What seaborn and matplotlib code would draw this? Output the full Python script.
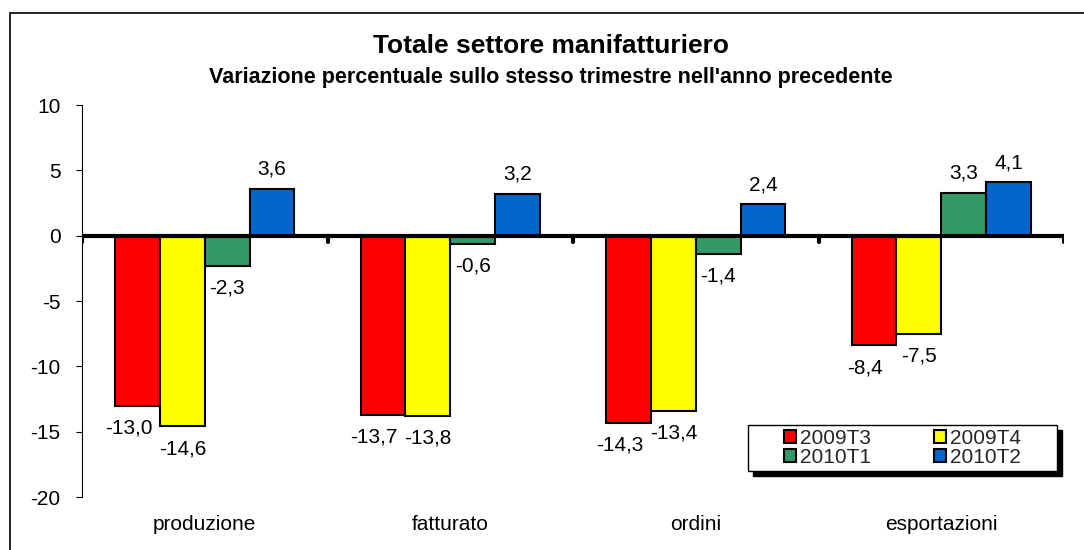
import numpy as np
import pandas as pd
import seaborn as sns
import matplotlib.pyplot as plt
from matplotlib.patches import Rectangle

# dati
categorie = ["produzione", "fatturato", "ordini", "esportazioni"]
trimestri = ["2009T3", "2009T4", "2010T1", "2010T2"]
v_2009T3 = [-13.0, -13.7, -14.3, -8.4]
v_2009T4 = [-14.6, -13.8, -13.4, -7.5]
v_2010T1 = [-2.3, -0.6, -1.4, 3.3]
v_2010T2 = [3.6, 3.2, 2.4, 4.1]
colori = ["#FF0000", "#FFFF00", "#339966", "#0066CC"]

serie = [v_2009T3, v_2009T4, v_2010T1, v_2010T2]
rows = []
for t, vals in zip(trimestri, serie):
    for c, v in zip(categorie, vals):
        rows.append({"categoria": c, "trimestre": t, "valore": v})
df = pd.DataFrame(rows)

sns.set_theme(style="white")
plt.rcParams['font.family'] = ['Liberation Sans', 'DejaVu Sans']
plt.rcParams['axes.unicode_minus'] = False

fig = plt.figure(figsize=(10.84, 5.5), dpi=100)
ax = fig.add_axes([82/1084, 1-497/550, 982/1084, 392/550])

sns.barplot(data=df, x="categoria", y="valore", hue="trimestre",
            order=categorie, hue_order=trimestri, palette=colori,
            width=0.73, gap=0, edgecolor="black", linewidth=1.5,
            saturation=1, ax=ax, legend=True)

ax.set_xlim(-0.5, len(categorie) - 0.5)
ax.set_ylim(-20, 10)
ax.set_yticks(np.arange(-20, 11, 5))
ax.set_xlabel("")
ax.set_ylabel("")

for s in ["top", "right", "bottom"]:
    ax.spines[s].set_visible(False)
ax.spines["left"].set_color("black")
ax.spines["left"].set_linewidth(0.8)

ax.tick_params(axis="y", which="major", left=True, length=4.5, width=0.8,
               color="black", pad=11, labelsize=15, labelcolor="black")
ax.tick_params(axis="x", length=0, pad=13, labelsize=15, labelcolor="black")

# asse dello zero e tacche tra le categorie
ax.axhline(0, color="black", lw=3, zorder=5, solid_capstyle="round")
confini = np.arange(len(categorie) + 1) - 0.5
ax.vlines(confini, -0.45, 0, color="black", lw=3, zorder=5, capstyle="round")

# etichette dei valori
for i, cont in enumerate(ax.containers):
    dx = -6.5 if i == 0 else 0
    for p, v in zip(cont.patches, serie[i]):
        x = p.get_x() + p.get_width() / 2
        dy = 14 if v >= 0 else -16
        ax.annotate(f"{v:.1f}".replace(".", ","), (x, v), xytext=(dx, dy),
                    textcoords="offset points", ha="center", va="center",
                    fontsize=15, color="black", zorder=6)

# riquadro della legenda con ombra
lx, ly, lw_, lh = 0.678, 0.066, 0.315, 0.118
ax.add_patch(Rectangle((lx + 5/982, ly - 5/392), lw_, lh, transform=ax.transAxes,
                       facecolor="black", edgecolor="black", zorder=7, clip_on=False))
ax.add_patch(Rectangle((lx, ly), lw_, lh, transform=ax.transAxes,
                       facecolor="white", edgecolor="black", lw=1.0, zorder=7.5,
                       clip_on=False))

# legenda su due colonne, ordine per righe
h, l = ax.get_legend_handles_labels()
ordine = [0, 2, 1, 3]
leg = ax.legend([h[k] for k in ordine], [l[k] for k in ordine], ncol=2,
                loc="center", bbox_to_anchor=(lx, ly, lw_, lh),
                fontsize=15, frameon=False, borderpad=0.1, labelspacing=0.0,
                handlelength=0.6, handleheight=0.6, handletextpad=0.2,
                columnspacing=3.0, borderaxespad=0)
leg.set_zorder(8)

fig.text(0.508, 1-46/550, "Totale settore manifatturiero", ha="center",
         va="center", fontsize=19, fontweight="bold", color="black")
fig.text(0.508, 1-78/550,
         "Variazione percentuale sullo stesso trimestre nell'anno precedente",
         ha="center", va="center", fontsize=15.5, fontweight="bold", color="black")

# bordo esterno dell'area grafico
fig.patches.append(Rectangle((10/1084, -0.1), 1.2, (1-13/550) + 0.1,
                             transform=fig.transFigure, fill=False,
                             edgecolor="black", lw=1.2))

fig.savefig("out.png", dpi=100)
